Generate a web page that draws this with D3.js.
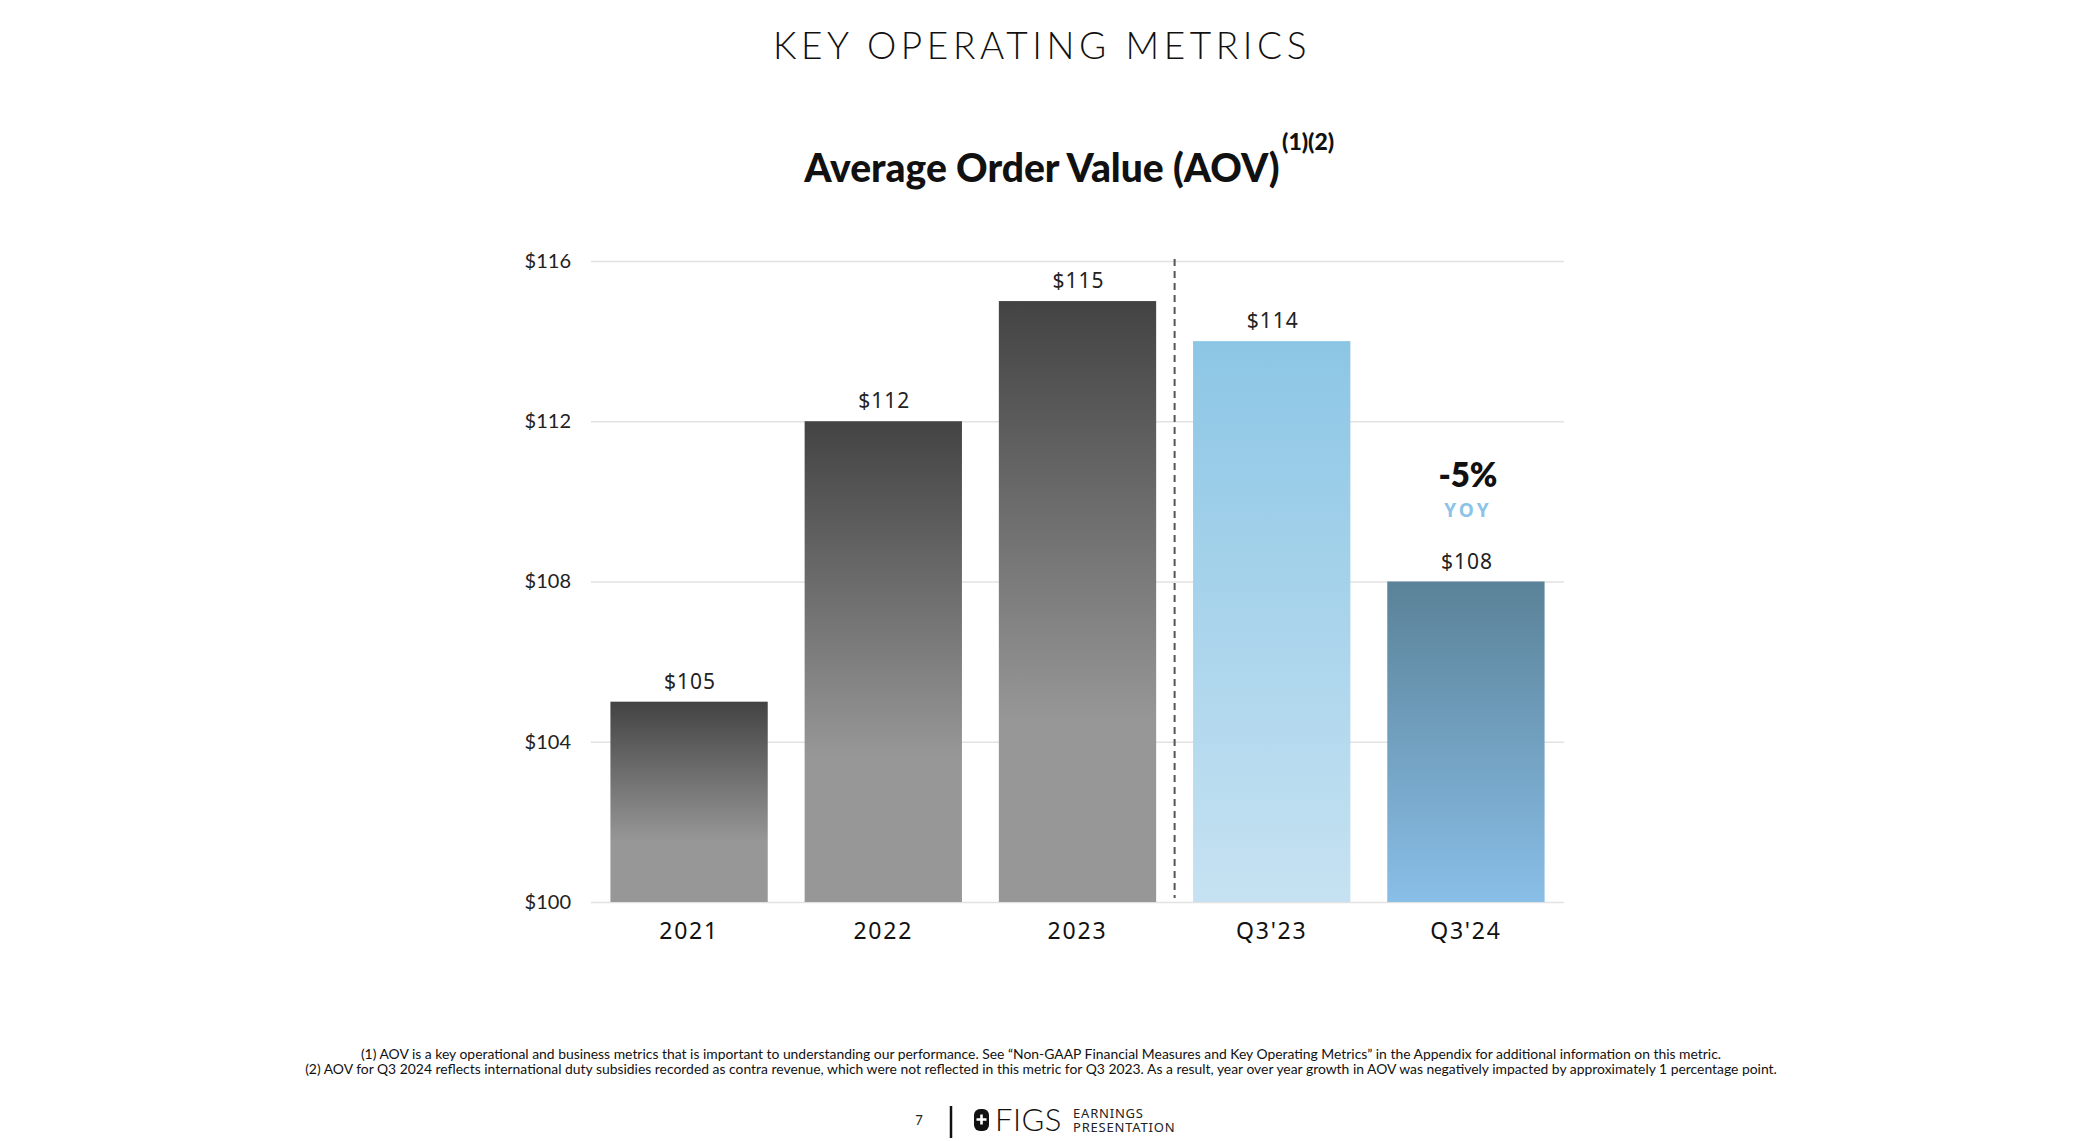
<!DOCTYPE html>
<html>
<head>
<meta charset="utf-8">
<script src="https://cdn.jsdelivr.net/npm/d3@7"></script>
<style>
  html, body { margin: 0; padding: 0; background: #fff; }
  svg { display: block; }
</style>
</head>
<body>
<svg id="chart" width="2082" height="1141"></svg>
<script>
// ---- data ----
const categories = ["2021", "2022", "2023", "Q3'23", "Q3'24"];
const values = [105, 112, 115, 114, 108];
const barGroups = ["annual", "annual", "annual", "prior", "current"];
const yTicks = [100, 104, 108, 112, 116];
const yoyChange = "-5%";
const yoyLabel = "YOY";
const titleText = "KEY OPERATING METRICS";
const chartTitle = "Average Order Value (AOV)";
const chartTitleNote = "(1)(2)";
const footnotes = [
  "(1) AOV is a  key operational and business metrics that is important to understanding our performance. See \u201cNon-GAAP Financial Measures and Key Operating Metrics\u201d in the Appendix for additional information on this metric.",
  "(2) AOV for Q3 2024 reflects international duty subsidies recorded as contra revenue, which were not reflected in this metric for Q3 2023.  As a result, year over year growth in AOV was negatively impacted by approximately 1 percentage point."
];

// ---- layout ----
const svg = d3.select("#chart");
const plot = { left: 591, right: 1564, top: 261, bottom: 902 };

const x = d3.scaleBand().domain(categories).range([plot.left, plot.right]).paddingInner(0.19).paddingOuter(0.1);
const y = d3.scaleLinear().domain([100, 116]).range([plot.bottom, plot.top]);

// gradients
const defs = svg.append("defs");
const grads = {
  annual: [["0%", "#434343"], ["70%", "#979797"], ["100%", "#979797"]],
  prior: [["0%", "#8cc6e5"], ["100%", "#c6e2f2"]],
  current: [["0%", "#5a8298"], ["100%", "#89bee7"]]
};
Object.entries(grads).forEach(([k, stops]) => {
  const g = defs.append("linearGradient").attr("id", "g-" + k)
    .attr("x1", 0).attr("y1", 0).attr("x2", 0).attr("y2", 1);
  stops.forEach(s => g.append("stop").attr("offset", s[0]).attr("stop-color", s[1]));
});

// titles
svg.append("text").attr("x", 1042).attr("y", 59).attr("text-anchor", "middle")
  .attr("font-family", "Lato").attr("font-weight", 300).attr("font-size", 37)
  .attr("letter-spacing", 4.6).attr("fill", "#111").text(titleText);

svg.append("text").attr("x", 1042).attr("y", 182).attr("text-anchor", "middle")
  .attr("font-family", "Lato").attr("font-weight", 900).attr("font-size", 39).attr("fill", "#111")
  .text(chartTitle);
svg.append("text").attr("x", 1282).attr("y", 150)
  .attr("font-family", "Lato").attr("font-weight", 900).attr("font-size", 23).attr("fill", "#111")
  .text(chartTitleNote);

// grid + y axis
const yAxis = d3.axisLeft(y).tickValues(yTicks).tickSize(-(plot.right - plot.left)).tickPadding(20)
  .tickFormat(d => "$" + d);
const ga = svg.append("g").attr("transform", `translate(${plot.left},0)`).call(yAxis);
ga.select(".domain").remove();
ga.selectAll(".tick line").attr("stroke", "#e2e2e2").attr("stroke-width", 1.5);
ga.selectAll(".tick text").attr("font-family", "Lato").attr("font-size", 20).attr("fill", "#222");

// x axis labels
const xAxis = d3.axisBottom(x).tickSize(0).tickPadding(21);
const gx = svg.append("g").attr("transform", `translate(0,${plot.bottom})`).call(xAxis);
gx.select(".domain").remove();
gx.selectAll(".tick text").attr("font-family", "Noto Sans").attr("font-size", 23)
  .attr("letter-spacing", 1.8).attr("fill", "#111");

// bars
svg.append("g").selectAll("rect").data(categories).join("rect")
  .attr("x", d => x(d)).attr("width", x.bandwidth())
  .attr("y", (d, i) => y(values[i])).attr("height", (d, i) => y(100) - y(values[i]))
  .attr("fill", (d, i) => `url(#g-${barGroups[i]})`);

// value labels
svg.append("g").selectAll("text").data(categories).join("text")
  .attr("x", d => x(d) + x.bandwidth() / 2 + 1).attr("y", (d, i) => y(values[i]) - 13)
  .attr("text-anchor", "middle").attr("font-family", "Noto Sans").attr("font-size", 21)
  .attr("letter-spacing", 1).attr("fill", "#222")
  .text((d, i) => "$" + values[i]);

// dashed separator
const sepX = (x(categories[2]) + x.bandwidth() + x(categories[3])) / 2;
svg.append("line").attr("x1", sepX).attr("x2", sepX).attr("y1", y(116) - 2).attr("y2", y(100) - 4)
  .attr("stroke", "#555").attr("stroke-width", 2).attr("stroke-dasharray", "7,5");

// YOY annotation
const cx = x(categories[4]) + x.bandwidth() / 2;
svg.append("text").attr("x", cx + 2).attr("y", 487).attr("text-anchor", "middle")
  .attr("font-family", "Lato").attr("font-weight", 800).attr("font-size", 33).attr("fill", "#111").text(yoyChange);
svg.append("text").attr("x", cx + 2).attr("y", 517).attr("text-anchor", "middle")
  .attr("font-family", "Noto Sans").attr("font-weight", 700).attr("font-size", 19)
  .attr("letter-spacing", 3).attr("fill", "#8dc3e8").text(yoyLabel);

// footnotes
footnotes.forEach((t, i) => {
  svg.append("text").attr("x", 1041).attr("y", 1059 + i * 15).attr("text-anchor", "middle")
    .attr("font-family", "Lato").attr("font-size", 13.9).attr("fill", "#111").text(t);
});

// footer
svg.append("text").attr("x", 919).attr("y", 1125).attr("text-anchor", "middle")
  .attr("font-family", "Lato").attr("font-size", 13).attr("fill", "#222").text("7");
svg.append("line").attr("x1", 951).attr("x2", 951).attr("y1", 1106).attr("y2", 1138)
  .attr("stroke", "#111").attr("stroke-width", 2.5);
svg.append("rect").attr("x", 974).attr("y", 1109).attr("width", 15).attr("height", 22).attr("rx", 6).attr("fill", "#111");
svg.append("path").attr("d", "M981.5,1114.5v10M976.5,1119.5h10").attr("stroke", "#fff").attr("stroke-width", 2.6);
svg.append("text").attr("x", 995).attr("y", 1131).attr("font-family", "Lato").attr("font-weight", 300)
  .attr("font-size", 31).attr("letter-spacing", 0.5).attr("fill", "#111").text("FIGS");
svg.append("text").attr("x", 1073).attr("y", 1118).attr("font-family", "Noto Sans").attr("font-size", 13)
  .attr("letter-spacing", 0.8).attr("fill", "#222").text("EARNINGS");
svg.append("text").attr("x", 1073).attr("y", 1132).attr("font-family", "Noto Sans").attr("font-size", 13)
  .attr("letter-spacing", 0.8).attr("fill", "#222").text("PRESENTATION");
</script>
</body>
</html>
